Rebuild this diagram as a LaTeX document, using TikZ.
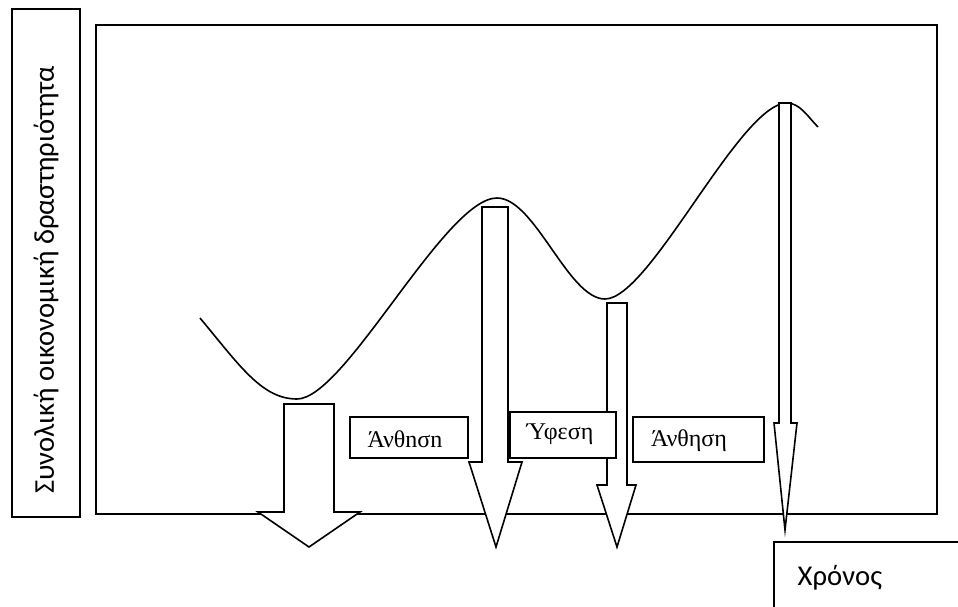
\documentclass[tikz,border=0pt]{standalone}
\usepackage{fontspec}
\setmainfont{Liberation Serif}
\newfontfamily\labelsans{Carlito}
\begin{document}
\begin{tikzpicture}[x=0.75pt,y=-0.75pt,
  frameline/.style={draw=black,line width=1.2pt},
  downarrow/.style={draw=black,fill=white,line width=1.2pt,line join=miter},
  phasetext/.style={inner sep=0pt,font=\fontsize{18}{20}\selectfont},
  axislabel/.style={font=\labelsans\fontsize{21.5}{24}\selectfont}]
\useasboundingbox (0,0) rectangle (958,607);

% vertical axis caption box
\draw[frameline] (12,9) rectangle (80,517);
\node[axislabel,rotate=90] (ylab) at (46,280) {Συνολική οικονομική δραστηριότητα};

% main frame
\draw[frameline] (96,25) rectangle (937,514);

% business cycle curve
\draw[line width=1.2pt]
  (200,318) .. controls (240,366) and (262,399) .. (297,399)
  .. controls (345,399) and (445,198) .. (497,198)
  .. controls (535,198) and (568,299) .. (605,299)
  .. controls (650,299) and (740,103) .. (787,103)
  .. controls (800,103) and (808,117) .. (818,127);

% downward arrows
\draw[downarrow] (284,404) -- (334,404) -- (334,512) -- (360,512) -- (309,547)
  -- (258,512) -- (284,512) -- cycle;
\draw[downarrow] (482,207) -- (508,207) -- (508,462) -- (522,462) -- (496,547)
  -- (469,462) -- (482,462) -- cycle;
\draw[downarrow] (607,303) -- (627,303) -- (627,485) -- (636,485) -- (617,547)
  -- (597,485) -- (607,485) -- cycle;
\draw[downarrow] (779,103) -- (791,103) -- (791,423) -- (797,423) -- (785,530)
  -- (774,423) -- (779,423) -- cycle;

% phase labels
\draw[frameline,fill=white] (350,417) rectangle (468,458);
\node[phasetext] (p1) at (405,439) {Άνθnσn};
\draw[frameline,fill=white] (510,412) rectangle (616,458);
\node[phasetext] (p2) at (560,434) {Ύφεση};
\draw[frameline,fill=white] (633,417) rectangle (764,462);
\node[phasetext] (p3) at (689,441) {Άνθηση};

% time caption box, running off the page edge
\draw[frameline] (774,620) -- (774,542) -- (970,542);
\node[axislabel,anchor=west] (tlab) at (793,578) {Χρόνος};
\end{tikzpicture}
\end{document}
